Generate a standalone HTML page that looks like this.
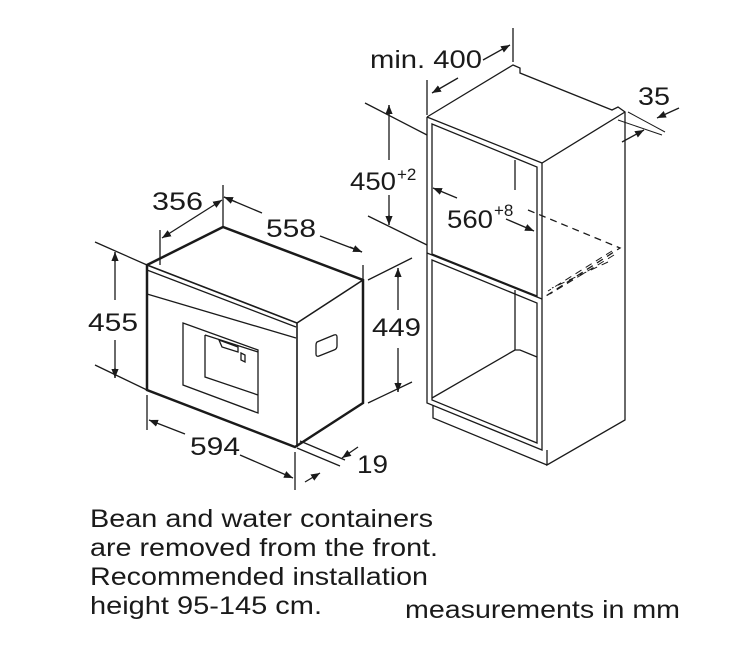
<!DOCTYPE html>
<html><head><style>
html,body{margin:0;padding:0;background:#fff;width:733px;height:650px;overflow:hidden}
svg{display:block}
text{font-family:"Liberation Sans",Arial,sans-serif;fill:#1a1a1a}
</style></head><body>
<svg width="733" height="650" viewBox="0 0 733 650" xmlns="http://www.w3.org/2000/svg">
<defs>
<marker id="a" viewBox="0 0 10 10" refX="10" refY="5" markerWidth="9" markerHeight="9" orient="auto-start-reverse" markerUnits="userSpaceOnUse"><path d="M0,1 L10,5 L0,9 Z" fill="#1a1a1a"/></marker>
</defs>
<g stroke="#1a1a1a" fill="none" stroke-width="1.3">
<path d="M147,265 L223,227 L363,280 L363,403 L295,447 L147,390 Z" stroke-width="2.5"/>
<path d="M147,265 L297,323 L297,447" stroke-width="1.6"/>
<path d="M297,323 L363,280" stroke-width="1.6"/>
<path d="M147,270 L296,327"/>
<path d="M147,294 L296,338"/>
<path d="M183,323 L258,350 L258,413 L183,385 Z"/>
<path d="M205,335 L258,352 M205,335 L205,377 L258,395"/>
<path d="M219,340 L238,347 L238,352 L222,347 Z"/>
<path d="M241,353 L245,355 L245,362 L241,360 Z"/>
<path d="M317,342 L334,335 Q337,334 337,337 L337,346 Q337,349 334,350 L319,356 Q316,357 316,354 L316,345 Q316,343 317,342 Z"/>
<path d="M160,265 L160,230 M223,227 L223,185 M363,280 L363,265"/>
<path d="M162,238 L222,200" marker-start="url(#a)" marker-end="url(#a)"/>
<path d="M224,197 L262,213 M320,236 L362,252" />
<path d="M224,197 L236,202" marker-start="url(#a)"/>
<path d="M350,247 L362,252" marker-end="url(#a)"/>
<path d="M95,242 L147,265 M95,365 L147,390"/>
<path d="M115,252 L115,300 M115,340 L115,378"/>
<path d="M115,252 L115,262" marker-start="url(#a)"/>
<path d="M115,368 L115,378" marker-end="url(#a)"/>
<path d="M368,280 L412,258 M368,403 L412,382"/>
<path d="M398,268 L398,310 M398,348 L398,392"/>
<path d="M398,268 L398,278" marker-start="url(#a)"/>
<path d="M398,382 L398,392" marker-end="url(#a)"/>
<path d="M147,395 L147,430 M295,452 L295,490"/>
<path d="M149,420 L185,434" marker-start="url(#a)"/>
<path d="M240,455 L293,478" marker-end="url(#a)"/>
<path d="M297,448 L340,466 M300,441 L345,460"/>
<path d="M358,447 L342,458" marker-end="url(#a)"/>
<path d="M305,482 L320,473" marker-end="url(#a)"/>
<path d="M427,117 L513,65 L520,68 L520,73 L612,110 L618,107 L625,112 L625,420 L547,465 L547,450"/>
<path d="M427,117 L542,163 L625,112"/>
<path d="M427,117 L427,403 L542,450 L542,163"/>
<path d="M432,124 L537,167 L537,296 L432,254 Z"/>
<path d="M427,253 L542,299"/>
<path d="M432,260 L537,303 L537,443 L432,400 Z"/>
<path d="M433,405 L433,418 L547,465"/>
<path d="M515,160 L515,190 M515,290 L515,350 L520,350 L537,357 M432,398 L515,350"/>
<path d="M528,210 L620,248 L546,296" stroke-dasharray="7,5"/>
<path d="M612,251 L548,291 M614,255 L550,294 M608,262 L552,288" stroke-dasharray="7,5" stroke-width="1"/>
<path d="M427,115 L427,80 M513,62 L513,28"/>
<path d="M432,93 L458,78" marker-start="url(#a)"/>
<path d="M483,60 L510,45" marker-end="url(#a)"/>
<path d="M365,103 L427,135 M368,216 L427,245"/>
<path d="M389,105 L389,160 M389,195 L389,225"/>
<path d="M389,105 L389,115" marker-start="url(#a)"/>
<path d="M389,215 L389,225" marker-end="url(#a)"/>
<path d="M433,188 L457,198" marker-start="url(#a)"/>
<path d="M506,219 L534,231" marker-end="url(#a)"/>
<path d="M628,112 L665,132 M618,120 L662,135" stroke-width="1"/>
<path d="M679,108 L657,118" marker-end="url(#a)"/>
<path d="M622,142 L644,130" marker-end="url(#a)"/>
</g>
<g font-size="25">
<text x="152" y="210" textLength="51" lengthAdjust="spacingAndGlyphs">356</text>
<text x="266" y="237" textLength="50" lengthAdjust="spacingAndGlyphs">558</text>
<text x="88" y="331" textLength="50" lengthAdjust="spacingAndGlyphs">455</text>
<text x="372" y="336" textLength="49" lengthAdjust="spacingAndGlyphs">449</text>
<text x="190" y="455" textLength="50" lengthAdjust="spacingAndGlyphs">594</text>
<text x="357" y="473" textLength="31" lengthAdjust="spacingAndGlyphs">19</text>
<text x="370" y="68" textLength="112" lengthAdjust="spacingAndGlyphs">min. 400</text>
<text x="638" y="105" textLength="32" lengthAdjust="spacingAndGlyphs">35</text>
<text x="350" y="190" textLength="46" lengthAdjust="spacingAndGlyphs">450</text><text x="397" y="180" font-size="17">+2</text>
<text x="447" y="228" textLength="46" lengthAdjust="spacingAndGlyphs">560</text><text x="494" y="216" font-size="17">+8</text>
<text x="90" y="527" textLength="343" lengthAdjust="spacingAndGlyphs">Bean and water containers</text>
<text x="90" y="556" textLength="348" lengthAdjust="spacingAndGlyphs">are removed from the front.</text>
<text x="90" y="585" textLength="338" lengthAdjust="spacingAndGlyphs">Recommended installation</text>
<text x="90" y="614" textLength="232" lengthAdjust="spacingAndGlyphs">height 95-145 cm.</text>
<text x="405" y="618" textLength="275" lengthAdjust="spacingAndGlyphs">measurements in mm</text>
</g>
</svg>
</body></html>
